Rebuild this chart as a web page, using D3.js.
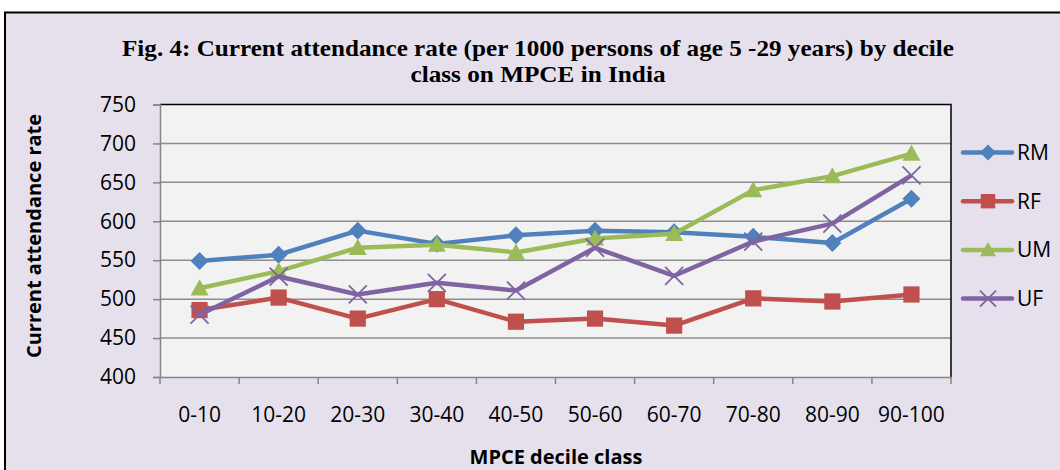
<!DOCTYPE html>
<html><head><meta charset="utf-8">
<script src="https://cdn.jsdelivr.net/npm/d3@7"></script>
<style>body{margin:0;background:#fff}svg{display:block}</style>
</head><body>
<svg id="c" width="1060" height="470"></svg>
<script>
const categories = ["0-10","10-20","20-30","30-40","40-50","50-60","60-70","70-80","80-90","90-100"];
const seriesNames = ["RM","RF","UM","UF"];
const RM = [549,557,588,571,582,588,586,580,572,629];
const RF = [486,502,475,500,471,475,466,501,497,506];
const UM = [514,536,566,570,560,578,584,640,658,687];
const UF = [480,529,506,521,511,566,530,574,597,659];
const yTicks = [400,450,500,550,600,650,700,750];
const colors = ["#4F81BD","#C0504D","#9BBB59","#8064A2"];
const markers = ["diamond","square","triangle","cross"];
const values = [RM,RF,UM,UF];

const svg = d3.select("#c");
svg.append("rect").attr("x",0).attr("y",0).attr("width",1060).attr("height",470).attr("fill","#fff");
svg.append("rect").attr("x",5).attr("y",12.5).attr("width",1070).attr("height",480)
  .attr("fill","#E6E0EC").attr("stroke","#000").attr("stroke-width",2);

const L=160,R=951,T=104.5,B=377;
const x = d3.scaleBand().domain(categories).range([L,R]);
const y = d3.scaleLinear().domain([400,750]).range([B,T]);

svg.append("rect").attr("x",L).attr("y",T).attr("width",R-L).attr("height",B-T).attr("fill","#F2F2F2");

// gridlines
svg.append("g").selectAll("line").data(yTicks.filter(d=>d>400&&d<750)).join("line")
  .attr("x1",L).attr("x2",R).attr("y1",d=>y(d)).attr("y2",d=>y(d))
  .attr("stroke","#8C8C8C").attr("stroke-width",1.5);
// top & right border
svg.append("path").attr("d",`M${L},${T}H${R}V${B}`).attr("fill","none").attr("stroke","#000").attr("stroke-width",1.5);

const tickFont = "'Open Sans',sans-serif";
// y axis
const ya = svg.append("g").attr("transform",`translate(${L},0)`)
  .call(d3.axisLeft(y).tickValues(yTicks).tickSize(7).tickPadding(17));
ya.select(".domain").attr("stroke","#868686").attr("stroke-width",1.5);
ya.selectAll(".tick line").attr("stroke","#868686").attr("stroke-width",1.5);
ya.selectAll(".tick text").attr("font-family",tickFont).attr("font-size",21).attr("fill","#000");

// x axis
const xa = svg.append("g").attr("transform",`translate(0,${B})`)
  .call(d3.axisBottom(x).tickSize(0).tickPadding(30));
xa.select(".domain").attr("stroke","#868686").attr("stroke-width",1.5);
xa.selectAll(".tick text").attr("font-family",tickFont).attr("font-size",21).attr("fill","#000");
svg.append("g").selectAll("line").data(d3.range(categories.length+1)).join("line")
  .attr("x1",i=>L+i*x.step()).attr("x2",i=>L+i*x.step()).attr("y1",B).attr("y2",B+7)
  .attr("stroke","#868686").attr("stroke-width",1.5);

function marker(g,type,color,s){
  if(type==="diamond") g.append("path").attr("d",`M0,${-s}L${s},0L0,${s}L${-s},0Z`).attr("fill",color);
  else if(type==="square") g.append("rect").attr("x",-s*0.9).attr("y",-s*0.9).attr("width",s*1.8).attr("height",s*1.8).attr("fill",color);
  else if(type==="triangle") g.append("path").attr("d",`M0,${-s}L${s},${s*0.8}L${-s},${s*0.8}Z`).attr("fill",color);
  else g.append("path").attr("d",`M${-s},${-s}L${s},${s}M${-s},${s}L${s},${-s}`).attr("stroke",color).attr("stroke-width",1.8);
}

const line = d3.line().x((d,i)=>x(categories[i])+x.bandwidth()/2).y(d=>y(d));
values.forEach((vals,k)=>{
  const g = svg.append("g");
  g.append("path").attr("d",line(vals)).attr("fill","none").attr("stroke",colors[k]).attr("stroke-width",4.5).attr("stroke-linejoin","round");
  vals.forEach((v,i)=>{
    const mg = g.append("g").attr("transform",`translate(${x(categories[i])+x.bandwidth()/2},${y(v)})`);
    marker(mg,markers[k],colors[k],9);
  });
});

// legend
const lg = svg.append("g");
seriesNames.forEach((n,k)=>{
  const yy = 152.5 + k*48.7;
  lg.append("line").attr("x1",963).attr("x2",1012).attr("y1",yy).attr("y2",yy).attr("stroke",colors[k]).attr("stroke-width",4.5).attr("stroke-linecap","round");
  const mg = lg.append("g").attr("transform",`translate(988,${yy})`);
  marker(mg,markers[k],colors[k],8);
  lg.append("text").attr("x",1017).attr("y",yy).attr("dy","0.36em").attr("font-family",tickFont).attr("font-size",21).text(n);
});

// titles
svg.append("text").attr("x",538).attr("y",56).attr("text-anchor","middle").attr("font-family","'Liberation Serif',serif")
  .attr("font-weight","bold").attr("font-size",23).attr("textLength",832).attr("lengthAdjust","spacingAndGlyphs")
  .text("Fig. 4: Current attendance rate (per 1000 persons of age 5 -29 years) by decile");
svg.append("text").attr("x",538).attr("y",82).attr("text-anchor","middle").attr("font-family","'Liberation Serif',serif")
  .attr("font-weight","bold").attr("font-size",23).attr("textLength",255).attr("lengthAdjust","spacingAndGlyphs")
  .text("class on MPCE in India");
svg.append("text").attr("transform","translate(41,236) rotate(-90)").attr("text-anchor","middle")
  .attr("font-family",tickFont).attr("font-weight","bold").attr("font-size",20).text("Current attendance rate");
svg.append("text").attr("x",556).attr("y",464).attr("text-anchor","middle")
  .attr("font-family",tickFont).attr("font-weight","bold").attr("font-size",20).text("MPCE decile class");
</script>
</body></html>
